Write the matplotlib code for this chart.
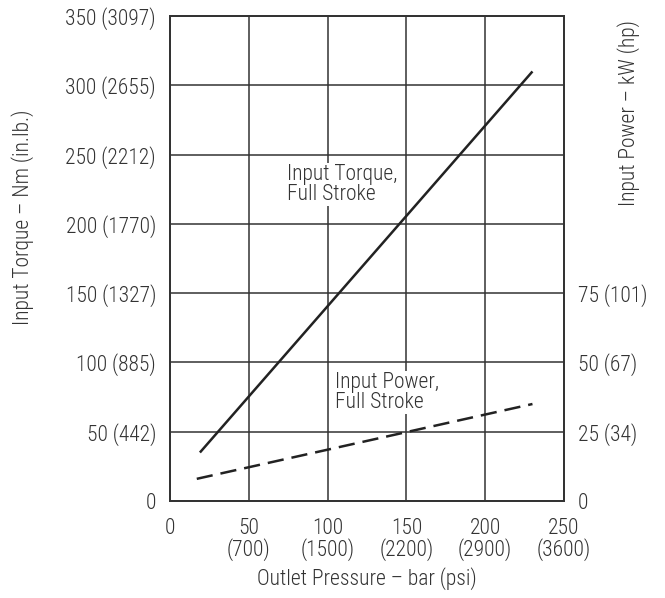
import matplotlib
matplotlib.use("Agg")
import matplotlib.pyplot as plt
from matplotlib import font_manager

names = {f.name for f in font_manager.fontManager.ttflist}
fams = [n for n in ['Roboto Condensed', 'Liberation Sans Narrow', 'DejaVu Sans Condensed'] if n in names]
plt.rcParams['font.family'] = fams + ['DejaVu Sans']
plt.rcParams['font.stretch'] = 'condensed'
plt.rcParams['font.weight'] = 'light'
plt.rcParams['axes.labelweight'] = 'light'

# Data
x_ticks = [0, 50, 100, 150, 200, 250]
x_ticklabels = ["0", "50\n(700)", "100\n(1500)", "150\n(2200)", "200\n(2900)", "250\n(3600)"]
y_ticks = [0, 50, 100, 150, 200, 250, 300, 350]
y_ticklabels = ["0", "50 (442)", "100 (885)", "150 (1327)", "200 (1770)",
                "250 (2212)", "300 (2655)", "350 (3097)"]
power_ticks = [0, 25, 50, 75]
power_ticklabels = ["0", "25 (34)", "50 (67)", "75 (101)"]

torque_pressure = [19, 230]
torque_nm = [35, 310]
power_pressure = [17, 230]
power_kw = [8, 35]

fig = plt.figure(figsize=(6.65, 5.98), dpi=100)
ax = fig.add_axes([0.2556, 0.1622, 0.5925, 0.8110])
ax.set_xlim(0, 250)
ax.set_ylim(0, 350)

col = '#222222'
ax.plot(torque_pressure, torque_nm, color=col, lw=1.8, solid_capstyle='butt', zorder=3)

ax2 = ax.twinx()
ax2.set_ylim(0, 175)
ax2.plot(power_pressure, power_kw, color=col, lw=1.8, dashes=(6.5, 3.2), zorder=3)

fs = 15.5
tc = '#333333'
ax.set_xticks(x_ticks)
ax.set_xticklabels(x_ticklabels, fontsize=fs, color=tc, linespacing=0.95)
ax.set_yticks(y_ticks)
ax.set_yticklabels(y_ticklabels, fontsize=fs, color=tc)
ax2.set_yticks(power_ticks)
ax2.set_yticklabels(power_ticklabels, fontsize=fs, color=tc)

for a in (ax, ax2):
    a.tick_params(axis='y', length=0, pad=10)
    a.tick_params(axis='x', length=0, pad=12)
    for s in a.spines.values():
        s.set_color(tc)
        s.set_linewidth(1.3)

ax.grid(True, color=tc, lw=1.1)
ax.set_axisbelow(True)

ax.set_xlabel("Outlet Pressure – bar (psi)", fontsize=fs, color=tc, labelpad=5)
ax.set_ylabel("Input Torque – Nm (in.lb.)", fontsize=fs, color=tc)
ax.yaxis.set_label_coords(-0.345, 0.585)
ax2.set_ylabel("Input Power – kW (hp)", fontsize=fs, color=tc)
ax2.yaxis.set_label_coords(1.135, 0.80)

ax.text(74, 243, "Input Torque,\nFull Stroke", fontsize=fs, color=tc,
        va='top', ha='left', linespacing=0.9,
        bbox=dict(facecolor='white', edgecolor='none', pad=1), zorder=2)
ax.text(105, 93, "Input Power,\nFull Stroke", fontsize=fs, color=tc,
        va='top', ha='left', linespacing=0.9,
        bbox=dict(facecolor='white', edgecolor='none', pad=1), zorder=2)

fig.savefig("out.png", dpi=100, facecolor='white')
